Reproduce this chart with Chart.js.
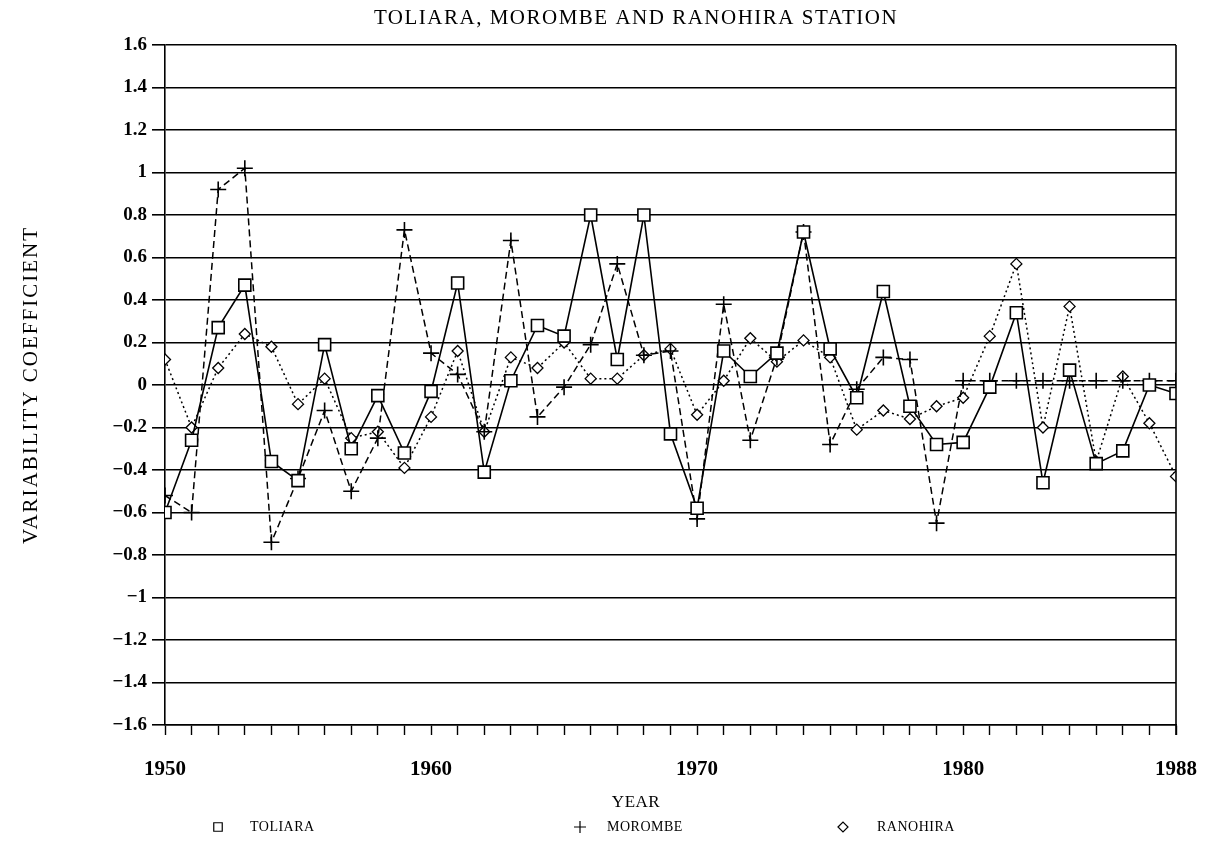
<!DOCTYPE html>
<html>
<head>
<meta charset="utf-8">
<script src="https://cdn.jsdelivr.net/npm/chart.js@4.4.0/dist/chart.umd.min.js"></script>
<style>
  html, body { margin: 0; padding: 0; background: #fff; }
  #wrap { width: 1205px; height: 843px; position: relative; }
</style>
</head>
<body>
<div id="wrap"><canvas id="c" width="1205" height="843"></canvas></div>
<script>
// Rainfall variability coefficient per year, three stations
const years = [1950, 1951, 1952, 1953, 1954, 1955, 1956, 1957, 1958, 1959,
               1960, 1961, 1962, 1963, 1964, 1965, 1966, 1967, 1968, 1969,
               1970, 1971, 1972, 1973, 1974, 1975, 1976, 1977, 1978, 1979,
               1980, 1981, 1982, 1983, 1984, 1985, 1986, 1987, 1988];

const toliara = [-0.60, -0.26, 0.27, 0.47, -0.36, -0.45, 0.19, -0.30, -0.05, -0.32,
                 -0.03, 0.48, -0.41, 0.02, 0.28, 0.23, 0.80, 0.12, 0.80, -0.23,
                 -0.58, 0.16, 0.04, 0.15, 0.72, 0.17, -0.06, 0.44, -0.10, -0.28,
                 -0.27, -0.01, 0.34, -0.46, 0.07, -0.37, -0.31, 0.00, -0.04];

const morombe = [-0.52, -0.60, 0.92, 1.02, -0.74, -0.44, -0.12, -0.50, -0.25, 0.73,
                 0.15, 0.05, -0.22, 0.68, -0.15, -0.01, 0.19, 0.57, 0.14, 0.16,
                 -0.63, 0.38, -0.26, 0.13, 0.72, -0.28, -0.02, 0.13, 0.12, -0.65,
                 0.02, 0.02, 0.02, 0.02, 0.02, 0.02, 0.02, 0.02, 0.02];

const ranohira = [0.12, -0.20, 0.08, 0.24, 0.18, -0.09, 0.03, -0.25, -0.22, -0.39,
                  -0.15, 0.16, -0.22, 0.13, 0.08, 0.20, 0.03, 0.03, 0.14, 0.17,
                  -0.14, 0.02, 0.22, 0.11, 0.21, 0.13, -0.21, -0.12, -0.16, -0.10,
                  -0.06, 0.23, 0.57, -0.20, 0.37, -0.36, 0.04, -0.18, -0.43];

const xTickYears = [1950, 1960, 1970, 1980, 1988];
const yTickValues = [1.6, 1.4, 1.2, 1, 0.8, 0.6, 0.4, 0.2, 0, -0.2, -0.4, -0.6, -0.8, -1, -1.2, -1.4, -1.6];
const yTickText = ['1.6', '1.4', '1.2', '1', '0.8', '0.6', '0.4', '0.2', '0',
                   '\u22120.2', '\u22120.4', '\u22120.6', '\u22120.8', '\u22121',
                   '\u22121.2', '\u22121.4', '\u22121.6'];

const chartTitle = 'TOLIARA, MOROMBE AND RANOHIRA STATION';
const xTitle = 'YEAR';
const yTitle = 'VARIABILITY COEFFICIENT';

const serif = '"Liberation Serif", "DejaVu Serif", serif';

function pairs(vals) {
  return years.map((yr, i) => ({ x: yr, y: vals[i] }));
}

// Title, axis captions, legend row and right-hand frame line
const decorations = {
  id: 'decorations',
  afterDraw(chart) {
    const { ctx, chartArea: a } = chart;
    ctx.save();
    ctx.strokeStyle = '#000';
    ctx.lineWidth = 1.6;
    ctx.beginPath();
    ctx.moveTo(a.right, a.top);
    ctx.lineTo(a.right, a.bottom + 10);
    ctx.stroke();

    ctx.fillStyle = '#000';
    ctx.textAlign = 'center';
    ctx.textBaseline = 'middle';
    ctx.letterSpacing = '1.5px';
    ctx.font = '21px ' + serif;
    ctx.fillText(chartTitle, 636, 18);

    ctx.save();
    ctx.translate(31, (a.top + a.bottom) / 2);
    ctx.rotate(-Math.PI / 2);
    ctx.letterSpacing = '2px';
    ctx.font = '21px ' + serif;
    ctx.fillText(yTitle, 0, 0);
    ctx.restore();

    ctx.letterSpacing = '0.5px';
    ctx.font = '17px ' + serif;
    ctx.fillText(xTitle, 636, 803);

    const markX = [218, 580, 843];
    const textX = [250, 607, 877];
    const legendY = 827;
    chart.data.datasets.forEach((ds, i) => {
      ctx.save();
      ctx.strokeStyle = '#000';
      ctx.fillStyle = '#fff';
      ctx.lineWidth = 1.2;
      Chart.helpers.drawPoint(ctx, { pointStyle: ds.pointStyle, radius: ds.legendRadius, borderWidth: 1.2 }, markX[i], legendY);
      ctx.restore();
      ctx.fillStyle = '#000';
      ctx.textAlign = 'left';
      ctx.letterSpacing = '0.5px';
      ctx.font = '14px ' + serif;
      ctx.fillText(ds.label, textX[i], legendY);
    });
    ctx.restore();
  }
};

new Chart(document.getElementById('c'), {
  type: 'line',
  data: {
    datasets: [
      {
        label: 'TOLIARA',
        data: pairs(toliara),
        borderColor: '#000',
        borderWidth: 1.6,
        pointStyle: 'rect',
        pointRadius: 8.5,
        pointBorderWidth: 1.6,
        pointBackgroundColor: '#fff',
        pointBorderColor: '#000',
        legendRadius: 6,
        tension: 0
      },
      {
        label: 'MOROMBE',
        data: pairs(morombe),
        borderColor: '#000',
        borderWidth: 1.5,
        borderDash: [7, 4],
        pointStyle: 'cross',
        pointRadius: 8,
        pointBorderWidth: 1.6,
        pointBorderColor: '#000',
        legendRadius: 6,
        tension: 0
      },
      {
        label: 'RANOHIRA',
        data: pairs(ranohira),
        borderColor: '#000',
        borderWidth: 1.5,
        borderDash: [2, 3],
        pointStyle: 'rectRot',
        pointRadius: 5.5,
        pointBorderWidth: 1.3,
        pointBackgroundColor: '#fff',
        pointBorderColor: '#000',
        legendRadius: 5,
        tension: 0
      }
    ]
  },
  options: {
    responsive: false,
    animation: false,
    devicePixelRatio: 1,
    layout: { padding: { top: 45, right: 29, bottom: 0, left: 0 } },
    plugins: {
      legend: { display: false },
      title: { display: false },
      tooltip: { enabled: false }
    },
    scales: {
      x: {
        type: 'linear',
        min: 1950,
        max: 1988,
        afterFit: s => {
          s.height = 118;
          s.paddingLeft = 0;
          s.paddingRight = 0;
        },
        afterBuildTicks: s => {
          s.ticks = years.map(v => ({ value: v }));
        },
        ticks: {
          autoSkip: false,
          maxRotation: 0,
          padding: 22,
          color: '#000',
          font: { family: serif, size: 21, weight: 'bold' },
          callback: v => (xTickYears.includes(v) ? String(v) : '')
        },
        grid: {
          drawOnChartArea: false,
          drawTicks: true,
          tickLength: 10,
          tickColor: '#000',
          tickWidth: 1.4
        },
        border: { display: true, color: '#000', width: 1.6 }
      },
      y: {
        min: -1.6,
        max: 1.6,
        afterFit: s => {
          s.width = 165;
          s.paddingTop = 0;
          s.paddingBottom = 0;
        },
        afterBuildTicks: s => {
          s.ticks = yTickValues.map(v => ({ value: v }));
        },
        ticks: {
          padding: 5,
          color: '#000',
          font: { family: serif, size: 19, weight: 'bold' },
          callback: v => {
            const i = yTickValues.findIndex(t => Math.abs(t - v) < 1e-6);
            return i >= 0 ? yTickText[i] : '';
          }
        },
        grid: {
          color: '#000',
          lineWidth: 1.6,
          drawTicks: true,
          tickLength: 13,
          tickColor: '#000'
        },
        border: { display: true, color: '#000', width: 1.6 },
        title: { display: false }
      }
    }
  },
  plugins: [decorations]
});
</script>
</body>
</html>
